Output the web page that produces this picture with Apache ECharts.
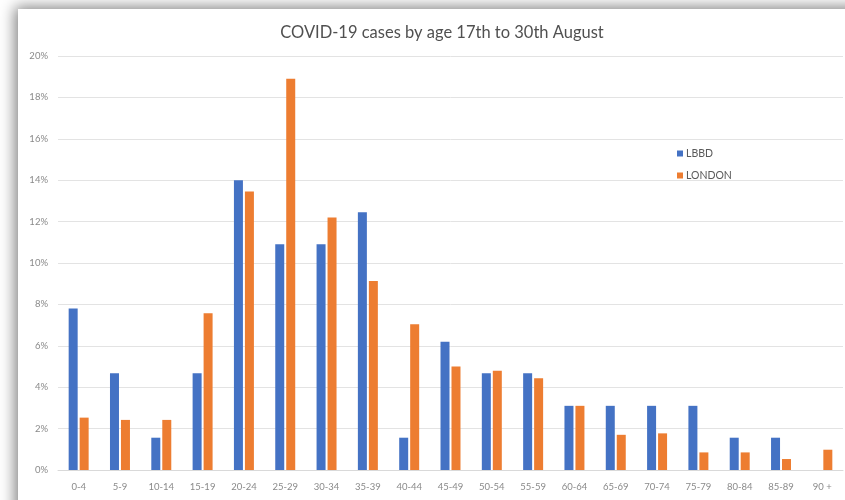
<!DOCTYPE html>
<html lang="en" style="height: 100%">

<head>
  <meta charset="utf-8">
</head>

<body style="height: 100%; margin: 0">
  <div id="container" style="width: 845px; height: 500px"></div>

  <script type="text/javascript" src="https://cdn.jsdelivr.net/npm/echarts@6/dist/echarts.min.js"></script>
  <script type="text/javascript">
    // age bands
    var ageGroups = ['0-4', '5-9', '10-14', '15-19', '20-24', '25-29', '30-34', '35-39', '40-44',
      '45-49', '50-54', '55-59', '60-64', '65-69', '70-74', '75-79', '80-84', '85-89', '90 +'];
    // share of cases, percent
    var lbbd = [7.8, 4.67, 1.56, 4.67, 14.0, 10.9, 10.9, 12.45, 1.56,
      6.2, 4.67, 4.67, 3.1, 3.1, 3.1, 3.1, 1.56, 1.56, 0];
    var london = [2.53, 2.42, 2.42, 7.57, 13.45, 18.9, 12.2, 9.13, 7.04,
      5.0, 4.8, 4.43, 3.1, 1.7, 1.77, 0.85, 0.85, 0.53, 0.98];

    var txt = '#8a8a8a';
    var myChart = echarts.init(document.getElementById('container'));
    myChart.setOption({
      backgroundColor: '#ffffff',
      animation: false,
      // chart frame with its drop shadow
      graphic: [{
        type: 'rect',
        left: 18, top: 9,
        shape: { width: 900, height: 600 },
        style: { fill: '#ffffff', shadowBlur: 14, shadowColor: 'rgba(0,0,0,0.5)', shadowOffsetX: -3, shadowOffsetY: -2 },
        z: -10
      }],
      title: {
        text: 'COVID-19 cases by age 17th to 30th August',
        left: 437, top: 19, textAlign: 'center',
        textStyle: { fontFamily: 'Lato', fontSize: 16.5, fontWeight: 'normal', color: '#505050' }
      },
      legend: {
        orient: 'vertical',
        left: 672, top: 143,
        itemWidth: 6, itemHeight: 6, itemGap: 11,
        icon: 'rect',
        textStyle: { fontFamily: 'Lato', fontSize: 10.5, color: '#595959', padding: [0, 0, 0, -2] },
        data: ['LBBD', 'LONDON']
      },
      grid: { left: 58, right: 2, top: 56, bottom: 30 },
      xAxis: {
        type: 'category',
        data: ageGroups,
        axisTick: { show: false },
        axisLine: { lineStyle: { color: '#d9d9d9' } },
        axisLabel: { color: txt, fontFamily: 'Lato', fontSize: 9.5, margin: 12, interval: 0 }
      },
      yAxis: {
        type: 'value',
        min: 0, max: 20, interval: 2,
        axisLabel: { color: txt, fontFamily: 'Lato', fontSize: 9.5, margin: 10, formatter: '{value}%' },
        splitLine: { lineStyle: { color: '#e3e3e3' } }
      },
      series: [
        {
          name: 'LBBD', type: 'bar', data: lbbd,
          barWidth: 9, barGap: '22%',
          itemStyle: { color: '#4472c4' }
        },
        {
          name: 'LONDON', type: 'bar', data: london,
          barWidth: 9,
          itemStyle: { color: '#ed7d31' }
        }
      ]
    });
  </script>
</body>

</html>
